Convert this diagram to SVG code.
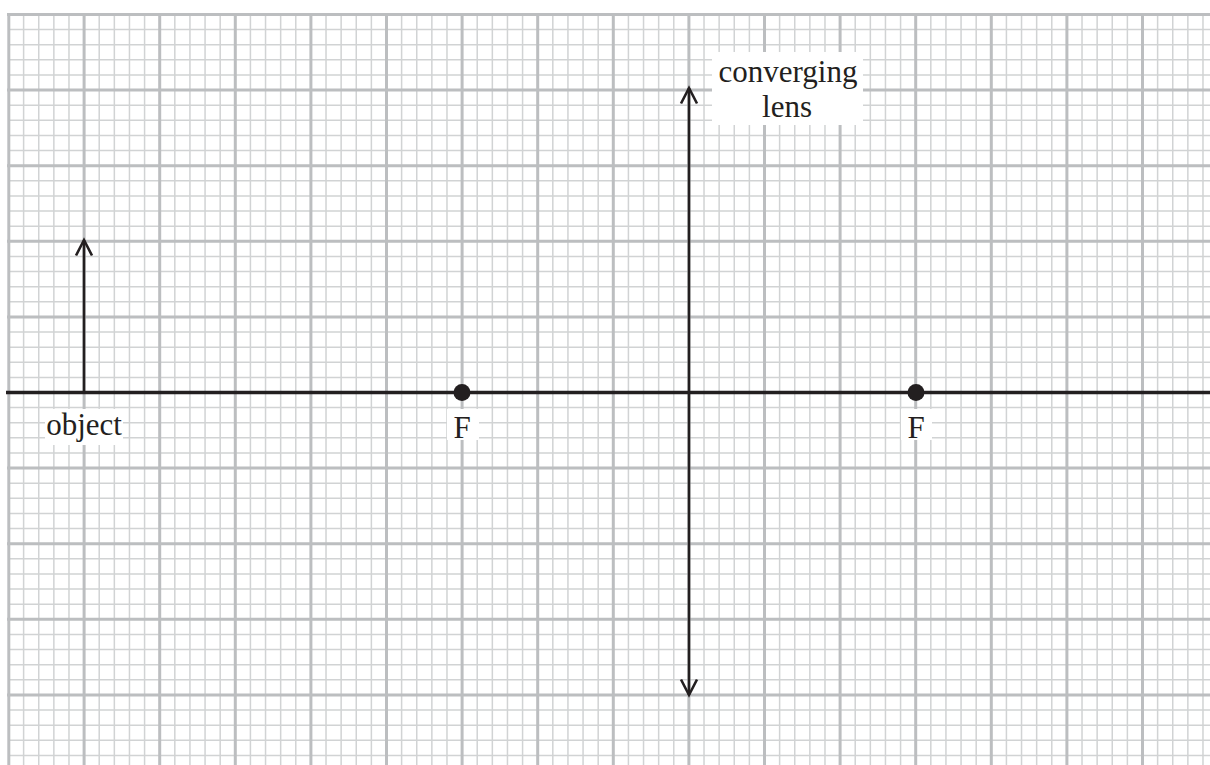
<svg xmlns="http://www.w3.org/2000/svg" width="1210" height="765" viewBox="0 0 1210 765">
  <style>
    .minor { stroke: #d1d3d4; stroke-width: 1.5; fill: none; }
    .major { stroke: #bcbec0; stroke-width: 3; fill: none; }
    .ink { stroke: #231f20; fill: none; stroke-width: 2.6; }
    .axis { stroke: #231f20; stroke-width: 3.6; fill: none; }
    .lbl { font-family: "Liberation Serif", "Times New Roman", serif; font-size: 31px; fill: #231f20; text-anchor: middle; }
    .bg { fill: #ffffff; stroke: none; }
  </style>
  <defs>
    <marker id="head" markerUnits="userSpaceOnUse" viewBox="-20 -20 40 40" markerWidth="40" markerHeight="40" refX="0" refY="0" orient="auto-start-reverse" overflow="visible">
      <path d="M -15.5 -8 L 0 0 L -15.5 8" stroke="#231f20" stroke-width="2.6" fill="none" stroke-linejoin="miter"/>
    </marker>
  </defs>
  <rect width="1210" height="765" fill="#ffffff"/>
  <g id="grid">
    <path class="minor" d="M23.62 14.5V765M38.74 14.5V765M53.86 14.5V765M68.98 14.5V765M99.22 14.5V765M114.34 14.5V765M129.46 14.5V765M144.58 14.5V765M174.82 14.5V765M189.94 14.5V765M205.06 14.5V765M220.18 14.5V765M250.42 14.5V765M265.54 14.5V765M280.66 14.5V765M295.78 14.5V765M326.02 14.5V765M341.14 14.5V765M356.26 14.5V765M371.38 14.5V765M401.62 14.5V765M416.74 14.5V765M431.86 14.5V765M446.98 14.5V765M477.22 14.5V765M492.34 14.5V765M507.46 14.5V765M522.58 14.5V765M552.82 14.5V765M567.94 14.5V765M583.06 14.5V765M598.18 14.5V765M628.42 14.5V765M643.54 14.5V765M658.66 14.5V765M673.78 14.5V765M704.02 14.5V765M719.14 14.5V765M734.26 14.5V765M749.38 14.5V765M779.62 14.5V765M794.74 14.5V765M809.86 14.5V765M824.98 14.5V765M855.22 14.5V765M870.34 14.5V765M885.46 14.5V765M900.58 14.5V765M930.82 14.5V765M945.94 14.5V765M961.06 14.5V765M976.18 14.5V765M1006.42 14.5V765M1021.54 14.5V765M1036.66 14.5V765M1051.78 14.5V765M1082.02 14.5V765M1097.14 14.5V765M1112.26 14.5V765M1127.38 14.5V765M1157.62 14.5V765M1172.74 14.5V765M1187.86 14.5V765M1202.98 14.5V765"/>
    <path class="minor" d="M8.5 29.62H1210M8.5 44.74H1210M8.5 59.86H1210M8.5 74.98H1210M8.5 105.22H1210M8.5 120.34H1210M8.5 135.46H1210M8.5 150.58H1210M8.5 180.82H1210M8.5 195.94H1210M8.5 211.06H1210M8.5 226.18H1210M8.5 256.42H1210M8.5 271.54H1210M8.5 286.66H1210M8.5 301.78H1210M8.5 332.02H1210M8.5 347.14H1210M8.5 362.26H1210M8.5 377.38H1210M8.5 407.62H1210M8.5 422.74H1210M8.5 437.86H1210M8.5 452.98H1210M8.5 483.22H1210M8.5 498.34H1210M8.5 513.46H1210M8.5 528.58H1210M8.5 558.82H1210M8.5 573.94H1210M8.5 589.06H1210M8.5 604.18H1210M8.5 634.42H1210M8.5 649.54H1210M8.5 664.66H1210M8.5 679.78H1210M8.5 710.02H1210M8.5 725.14H1210M8.5 740.26H1210M8.5 755.38H1210"/>
    <path class="major" d="M84.1 14.5V765M159.7 14.5V765M235.3 14.5V765M310.9 14.5V765M386.5 14.5V765M462.1 14.5V765M537.7 14.5V765M613.3 14.5V765M688.9 14.5V765M764.5 14.5V765M840.1 14.5V765M915.7 14.5V765M991.3 14.5V765M1066.9 14.5V765M1142.5 14.5V765"/>
    <path class="major" d="M7 14.5H1210M7 90.1H1210M7 165.7H1210M7 241.3H1210M7 316.9H1210M7 392.5H1210M7 468.1H1210M7 543.7H1210M7 619.3H1210M7 694.9H1210"/>
    <path class="major" stroke-width="3.6" d="M8.8 13V765"/>
  </g>
  <g id="axis">
    <line class="axis" x1="6" y1="392.5" x2="1210" y2="392.5"/>
  </g>
  <g id="connectors">
    <line id="lens-arrow" class="ink" x1="689" y1="88" x2="689" y2="695" marker-start="url(#head)" marker-end="url(#head)"/>
    <line id="object-arrow" class="ink" x1="84" y1="392.5" x2="84" y2="240" marker-end="url(#head)"/>
  </g>
  <g id="lens-label">
    <rect class="bg" x="712" y="52" width="151" height="73"/>
    <text class="lbl" x="788" y="82">converging</text>
    <text class="lbl" x="787" y="117">lens</text>
  </g>
  <g id="object-label">
    <rect class="bg" x="45" y="409" width="78" height="36"/>
    <text class="lbl" x="84" y="435">object</text>
  </g>
  <g id="focus-left">
    <circle cx="462" cy="392.5" r="8.5" fill="#231f20"/>
    <rect class="bg" x="447" y="409" width="32" height="31"/>
    <text class="lbl" x="462" y="438">F</text>
  </g>
  <g id="focus-right">
    <circle cx="916" cy="392.5" r="8.5" fill="#231f20"/>
    <rect class="bg" x="901" y="409" width="31" height="31"/>
    <text class="lbl" x="916" y="438">F</text>
  </g>
</svg>
